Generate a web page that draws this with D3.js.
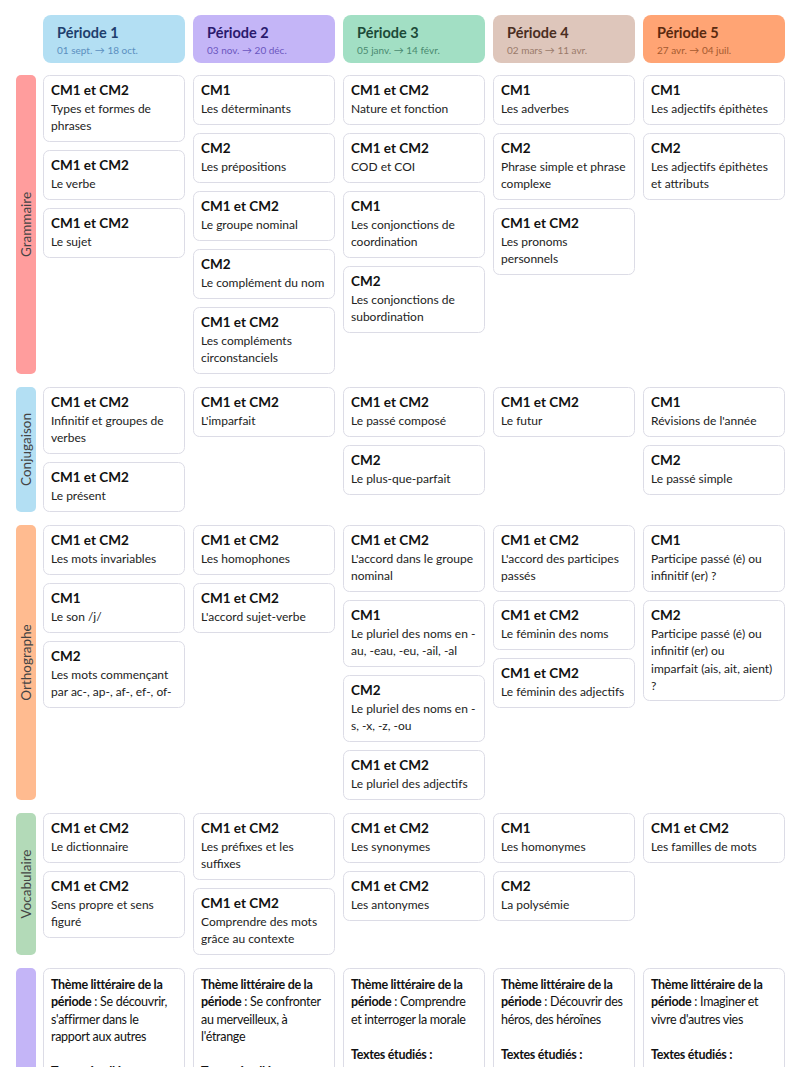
<!DOCTYPE html>
<html><head><meta charset="utf-8">
<script src="https://cdn.jsdelivr.net/npm/d3@7"></script>
<style>body{margin:0;background:#fff}svg{display:block;font-family:Lato,"Open Sans",sans-serif}</style>
</head><body><svg id="c" width="800" height="1067"></svg>
<script>
const periods = ["Période 1","Période 2","Période 3","Période 4","Période 5"];
const dates = ["01 sept. → 18 oct.","03 nov. → 20 déc.","05 janv. → 14 févr.","02 mars → 11 avr.","27 avr. → 04 juil."];
const headFill = ["#b3dff3","#c4b5f7","#a2dfc4","#dec6bb","#ffa474"];
const headTitle = ["#1f3f6e","#2a1a6e","#1c4a38","#4a2e22","#5a2a10"];
const headDate = ["#5b8fc0","#6b55c0","#4a8a70","#9a7a6a","#a55a30"];
const sections = ["Grammaire","Conjugaison","Orthographe","Vocabulaire","Littérature"];
const sectionFill = ["#ff9d9d","#b3dff3","#ffbb90","#b3dab8","#c4b5f7"];

const grammaire = [
 [["CM1 et CM2","Types et formes de|phrases"],["CM1 et CM2","Le verbe"],["CM1 et CM2","Le sujet"]],
 [["CM1","Les déterminants"],["CM2","Les prépositions"],["CM1 et CM2","Le groupe nominal"],["CM2","Le complément du nom"],["CM1 et CM2","Les compléments|circonstanciels"]],
 [["CM1 et CM2","Nature et fonction"],["CM1 et CM2","COD et COI"],["CM1","Les conjonctions de|coordination"],["CM2","Les conjonctions de|subordination"]],
 [["CM1","Les adverbes"],["CM2","Phrase simple et phrase|complexe"],["CM1 et CM2","Les pronoms|personnels"]],
 [["CM1","Les adjectifs épithètes"],["CM2","Les adjectifs épithètes|et attributs"]]
];
const conjugaison = [
 [["CM1 et CM2","Infinitif et groupes de|verbes"],["CM1 et CM2","Le présent"]],
 [["CM1 et CM2","L'imparfait"]],
 [["CM1 et CM2","Le passé composé"],["CM2","Le plus-que-parfait"]],
 [["CM1 et CM2","Le futur"]],
 [["CM1","Révisions de l'année"],["CM2","Le passé simple"]]
];
const orthographe = [
 [["CM1 et CM2","Les mots invariables"],["CM1","Le son /j/"],["CM2","Les mots commençant|par ac-, ap-, af-, ef-, of-"]],
 [["CM1 et CM2","Les homophones"],["CM1 et CM2","L'accord sujet-verbe"]],
 [["CM1 et CM2","L'accord dans le groupe|nominal"],["CM1","Le pluriel des noms en -|au, -eau, -eu, -ail, -al"],["CM2","Le pluriel des noms en -|s, -x, -z, -ou"],["CM1 et CM2","Le pluriel des adjectifs"]],
 [["CM1 et CM2","L'accord des participes|passés"],["CM1 et CM2","Le féminin des noms"],["CM1 et CM2","Le féminin des adjectifs"]],
 [["CM1","Participe passé (é) ou|infinitif (er) ?"],["CM2","Participe passé (é) ou|infinitif (er) ou|imparfait (ais, ait, aient)|?"]]
];
const vocabulaire = [
 [["CM1 et CM2","Le dictionnaire"],["CM1 et CM2","Sens propre et sens|figuré"]],
 [["CM1 et CM2","Les préfixes et les|suffixes"],["CM1 et CM2","Comprendre des mots|grâce au contexte"]],
 [["CM1 et CM2","Les synonymes"],["CM1 et CM2","Les antonymes"]],
 [["CM1","Les homonymes"],["CM2","La polysémie"]],
 [["CM1 et CM2","Les familles de mots"]]
];
const litterature = [
 ["*Thème littéraire de la","*période| : Se découvrir,","s'affirmer dans le","rapport aux autres","","*Textes étudiés :"],
 ["*Thème littéraire de la","*période| : Se confronter","au merveilleux, à","l'étrange","","*Textes étudiés :"],
 ["*Thème littéraire de la","*période| : Comprendre","et interroger la morale","","*Textes étudiés :"],
 ["*Thème littéraire de la","*période| : Découvrir des","héros, des héroïnes","","*Textes étudiés :"],
 ["*Thème littéraire de la","*période| : Imaginer et","vivre d'autres vies","","*Textes étudiés :"]
];
const sectionData = [grammaire, conjugaison, orthographe, vocabulaire];

const svg = d3.select("#c");
const x = d3.scaleBand().domain(d3.range(5)).range([43,785]).paddingInner(8/150).paddingOuter(0);
const bw = x.bandwidth();

const hg = svg.selectAll(".h").data(periods).join("g").attr("transform",(d,i)=>`translate(${x(i)},15)`);
hg.append("rect").attr("width",bw).attr("height",48).attr("rx",8).attr("fill",(d,i)=>headFill[i]);
hg.append("text").attr("x",14).attr("y",23).attr("font-size",14.5).attr("font-weight",700).attr("fill",(d,i)=>headTitle[i]).text(d=>d);
hg.append("text").attr("x",14).attr("y",39).attr("font-size",10).attr("fill",(d,i)=>headDate[i]).text((d,i)=>dates[i]);

const LH = 17.4, gap = 8;
let y0 = 75;
function card(g, cx, cy, h){
  g.append("rect").attr("x",cx+0.5).attr("y",cy+0.5).attr("width",bw-1).attr("height",h-1).attr("rx",6)
   .attr("fill","#fff").attr("stroke","#dcdce6");
}
sectionData.forEach((sec,si)=>{
  let maxY = y0;
  sec.forEach((col,ci)=>{
    let cy = y0;
    col.forEach(([lab,txt])=>{
      const lines = txt.split("|");
      const h = 33 + 17*lines.length;
      const g = svg.append("g");
      card(g, x(ci), cy, h);
      g.append("text").attr("x",x(ci)+8).attr("y",cy+20).attr("font-size",13.5).attr("font-weight",700).attr("fill","#111").text(lab);
      lines.forEach((l,li)=>g.append("text").attr("x",x(ci)+8).attr("y",cy+38+li*LH).attr("font-size",12).attr("fill","#222").text(l));
      cy += h + gap;
    });
    maxY = Math.max(maxY, cy - gap);
  });
  svg.append("rect").attr("x",16).attr("y",y0).attr("width",20).attr("height",maxY-y0).attr("rx",5).attr("fill",sectionFill[si]);
  svg.append("text").attr("transform",`translate(31,${(y0+maxY)/2}) rotate(-90)`).attr("text-anchor","middle")
    .attr("font-size",13.5).attr("fill","#444").text(sections[si]);
  y0 = maxY + 13;
});
const litH = 400;
svg.append("rect").attr("x",16).attr("y",y0).attr("width",20).attr("height",litH).attr("rx",5).attr("fill",sectionFill[4]);
svg.append("text").attr("transform",`translate(31,${y0+litH/2}) rotate(-90)`).attr("text-anchor","middle").attr("font-size",13.5).attr("fill","#444").text(sections[4]);
litterature.forEach((lines,ci)=>{
  const g = svg.append("g");
  card(g, x(ci), y0, litH);
  lines.forEach((l,li)=>{
    const t = g.append("text").attr("x",x(ci)+8).attr("y",y0+21+li*LH).attr("font-size",12.5).attr("fill","#111").attr("letter-spacing",-0.3);
    l.split("|").forEach(seg=>{
      const b = seg.startsWith("*");
      t.append("tspan").attr("font-weight",b?700:400).text(b?seg.slice(1):seg);
    });
  });
});
</script></body></html>
